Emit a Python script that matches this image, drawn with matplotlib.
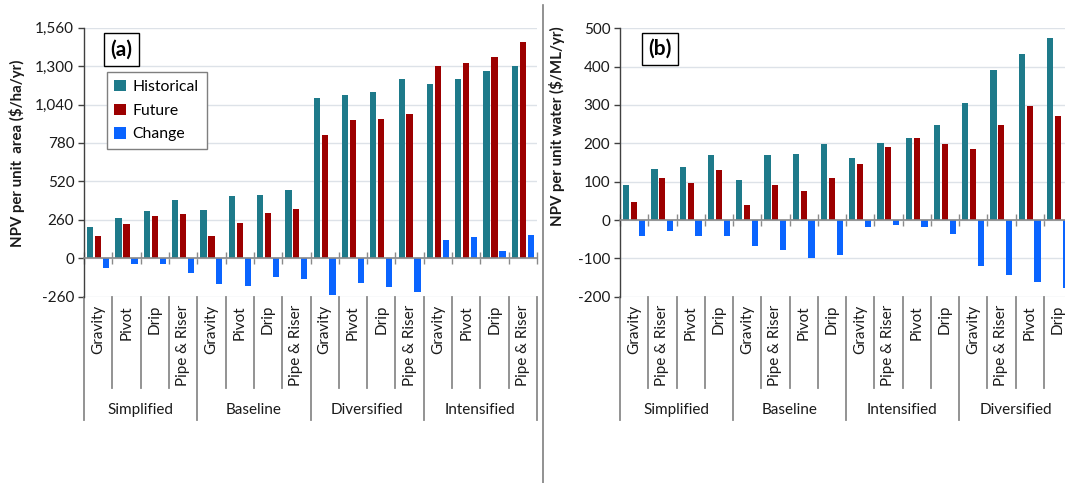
import matplotlib
matplotlib.use("Agg")
import matplotlib.pyplot as plt
from matplotlib.lines import Line2D
from matplotlib.patches import Patch
from matplotlib.ticker import FuncFormatter
import numpy as np

plt.rcParams['font.family'] = ['Lato', 'DejaVu Sans']

# ---------------- data ----------------
groups_a = ["Simplified", "Baseline", "Diversified", "Intensified"]
systems_a = ["Gravity", "Pivot", "Drip", "Pipe & Riser"]
hist_a = [214, 273, 320, 393, 325, 422, 431, 465, 1081, 1108, 1124, 1212, 1182, 1216, 1264, 1300]
fut_a = [153, 234, 286, 298, 153, 239, 307, 332, 833, 936, 943, 977, 1304, 1320, 1361, 1462]
chg_a = [-64, -41, -41, -97, -176, -185, -127, -140, -246, -169, -194, -230, 122, 142, 51, 158]
yticks_a = [-260, 0, 260, 520, 780, 1040, 1300, 1560]

groups_b = ["Simplified", "Baseline", "Intensified", "Diversified"]
systems_b = ["Gravity", "Pipe & Riser", "Pivot", "Drip"]
hist_b = [91, 134, 138, 169, 105, 169, 172, 197, 161, 202, 214, 247, 304, 391, 432, 475]
fut_b = [47, 109, 96, 131, 38, 92, 75, 109, 147, 190, 214, 197, 185, 249, 298, 271]
chg_b = [-42, -28, -42, -41, -69, -78, -99, -91, -17, -14, -17, -36, -121, -144, -162, -178]
yticks_b = [-200, -100, 0, 100, 200, 300, 400, 500]

series_names = ["Historical", "Future", "Change"]
colors = ["#1E7A8A", "#9C0000", "#0A64FF"]

W, H = 1065, 483
fig = plt.figure(figsize=(W / 100, H / 100), dpi=100)


def fx(px):
    return px / W


def fy(px):
    return 1 - px / H


def panel(rect_px, groups, systems, series, yticks, ylabel, tag, tagpos, ylabpos, legend=False):
    l, t, r, b = rect_px
    ax = fig.add_axes([fx(l), fy(b), fx(r) - fx(l), fy(t) - fy(b)])
    n = len(groups) * len(systems)
    x = np.arange(n)
    offs = [-0.28, 0.0, 0.28]
    for vals, off, c, name in zip(series, offs, colors, series_names):
        ax.bar(x + off, vals, width=0.22, color=c, label=name, zorder=3)
    ax.set_xlim(-0.5, n - 0.5)
    ax.set_ylim(yticks[0], yticks[-1])
    ax.set_yticks(yticks)
    ax.yaxis.set_major_formatter(FuncFormatter(lambda v, p: f"{int(v):,}".replace("\u2212", "-")))
    ax.grid(axis='y', color='#dde2e8', linewidth=1.0, zorder=0)
    ax.set_axisbelow(True)
    for s in ['top', 'right']:
        ax.spines[s].set_visible(False)
    ax.spines['left'].set_color('#404040')
    ax.spines['left'].set_linewidth(1.0)
    ax.spines['bottom'].set_position(('data', 0))
    ax.spines['bottom'].set_color('#8a8a8a')
    ax.spines['bottom'].set_linewidth(1.2)
    ax.spines['bottom'].set_zorder(4)
    ax.set_xticks(np.arange(n + 1) - 0.5)
    ax.tick_params(axis='x', direction='inout', length=8, color='#8a8a8a', width=1.0,
                   labelbottom=False)
    ax.tick_params(axis='y', direction='out', length=4, color='#404040', width=1.0,
                   labelsize=11, pad=3, labelcolor='#1a1a1a')
    ax.set_ylabel(ylabel, fontsize=10.8, fontweight='bold', color='#1a1a1a')
    ax.yaxis.set_label_coords(*ylabpos)

    # hierarchical category axis
    h = b - t
    trans = ax.get_xaxis_transform()
    inner_bot = -(388 - b) / h
    group_bot = -(420 - b) / h
    ns = len(systems)
    for k in range(n + 1):
        yb = group_bot if k % ns == 0 else inner_bot
        ax.plot([k - 0.5, k - 0.5], [0, yb], transform=trans, color='#8a8a8a',
                lw=1.3, clip_on=False, zorder=1)
    lab_top = -(305 - b) / h
    for i in range(n):
        ax.text(i, lab_top, systems[i % ns], transform=trans, rotation=90,
                ha='center', va='top', fontsize=11, color='#1a1a1a', clip_on=False)
    glab_y = -(410 - b) / h
    for g, name in enumerate(groups):
        ax.text(g * ns + (ns - 1) / 2, glab_y, name, transform=trans, ha='center',
                va='center', fontsize=11, color='#1a1a1a', clip_on=False)

    ax.text(tagpos[0], tagpos[1], tag, transform=ax.transAxes, fontsize=15,
            fontweight='bold', ha='center', va='center', zorder=6,
            bbox=dict(boxstyle='square,pad=0.3', fc='white', ec='black', lw=1.0))
    if legend:
        handles = [Patch(facecolor=c, edgecolor='none') for c in colors]
        leg = ax.legend(handles, series_names, loc='upper left',
                        bbox_to_anchor=(0.05, 0.835), borderaxespad=0,
                        fontsize=11.3, frameon=True, fancybox=False, framealpha=1,
                        handlelength=0.75, handleheight=0.75, handletextpad=0.4,
                        labelspacing=0.6, borderpad=0.5)
        leg.get_frame().set_edgecolor('#7f7f7f')
        leg.get_frame().set_linewidth(1.0)
        leg.set_zorder(6)
    return ax


panel((84, 27.7, 537, 296.7), groups_a, systems_a, [hist_a, fut_a, chg_a], yticks_a,
      "NPV per unit  area ($/ha/yr)", "(a)", (0.083, 0.919), (-0.130, 0.534), legend=True)
panel((620, 28.3, 1072, 296.7), groups_b, systems_b, [hist_b, fut_b, chg_b], yticks_b,
      "NPV per unit water ($/ML/yr)", "(b)", (0.0885, 0.923), (-0.122, 0.636))

# separator between panels
fig.add_artist(Line2D([fx(543), fx(543)], [0, fy(5)], transform=fig.transFigure,
                      color='#7f7f7f', lw=1.2))

fig.savefig("out.png", dpi=100, facecolor='white')
